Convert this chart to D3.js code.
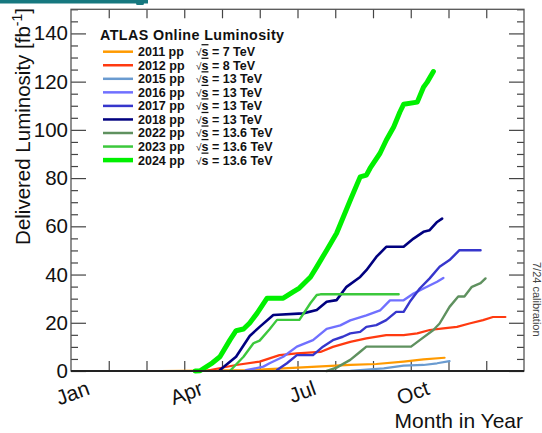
<!DOCTYPE html>
<html>
<head>
<meta charset="utf-8">
<script src="https://cdn.jsdelivr.net/npm/d3@7"></script>
<style>
  body { margin: 0; background: #fff; }
  svg { display: block; font-family: "Liberation Sans", Arial, sans-serif; }
</style>
</head>
<body>
<svg id="chart" width="542" height="433"></svg>
<script>
// x = day of year, y = delivered luminosity in fb^-1
const years = ["2011", "2012", "2015", "2016", "2017", "2018", "2022", "2023", "2024"];
const energies = ["7 TeV", "8 TeV", "13 TeV", "13 TeV", "13 TeV", "13 TeV", "13.6 TeV", "13.6 TeV", "13.6 TeV"];
const colors = ["#ff9a00", "#ff3a10", "#6a9bd0", "#7070ff", "#3636cc", "#00007f", "#5f915f", "#3cc83c", "#00f000"];
const widths = [2.2, 2.2, 2.2, 2.4, 2.4, 2.6, 2.4, 2.4, 5];

const lumi2011 = [[72,0],[144,0.4],[171,1.1],[198,1.8],[225,2.5],[246,2.9],[268,3.9],[284,4.8],[301,5.5]];
const lumi2012 = [[108,0],[133,2.5],[152,3.9],[168,6.6],[182,7.3],[201,7.9],[211,10],[225,12.1],[238,13.5],[254,14.9],[268,14.9],[279,15.6],[289,17],[300,17.7],[311,18.3],[321,19.7],[332,21.1],[340,22.4],[350,22.4]];
const lumi2015 = [[184,0],[225,0.1],[252,1.1],[268,2.2],[284,2.5],[295,3.2],[305,4.1]];
const lumi2016 = [[141,0.3],[155,1.8],[160,3.2],[171,5.9],[182,10.1],[195,12.8],[206,17.5],[217,18.9],[225,21],[238,23.1],[249,25.1],[257,29.3],[268,29.3],[276,32.1],[284,34.2],[295,37],[300,38.6]];
const lumi2017 = [[166,0.4],[174,3.2],[182,6.6],[195,6.6],[203,10.1],[211,12.8],[219,14.2],[225,15.6],[233,16.2],[238,18.3],[246,19],[254,21.1],[262,24.5],[268,24.5],[273,28.7],[281,34.2],[289,38.4],[297,43.2],[305,46],[313,50.1],[330,50.1]];
const lumi2018 = [[120,0.4],[133,5.9],[144,14.5],[152,18.3],[163,23.2],[187,23.9],[198,25.3],[206,28.7],[214,29.4],[222,34.9],[233,39],[238,41.8],[246,47.3],[254,51.5],[268,51.5],[276,54.9],[284,57.7],[289,58.4],[295,61.8],[299,63.2]];
const lumi2022 = [[206,0],[214,1.4],[225,4.6],[233,8],[238,10.1],[274,10.1],[281,12.8],[292,17],[297,19.7],[305,26.6],[312,30.9],[317,30.9],[323,34.9],[330,36.4],[334,38.4]];
const lumi2023 = [[128,0],[139,5.9],[147,11.5],[152,12.6],[160,17.3],[166,21.2],[184,21.2],[193,28.2],[198,31.5],[201,31.8],[264,31.8]];
const lumi2024 = [[100,0],[104,0.1],[114,3.4],[120,5.9],[128,12.8],[133,16.7],[139,17.4],[144,19.9],[150,24],[158,30.2],[171,30.2],[179,32.8],[184,34.4],[193,39],[198,43.2],[206,50.1],[214,57.1],[225,70.8],[233,80.5],[238,81.2],[241,84.1],[249,90.3],[254,95.7],[260,101.2],[265,107.4],[268,110.6],[279,111.5],[284,117.7],[287,119.8],[292,124.2]];
const series = [lumi2011, lumi2012, lumi2015, lumi2016, lumi2017, lumi2018, lumi2022, lumi2023, lumi2024];

const monthLabels = ["Jan", "", "", "Apr", "", "", "Jul", "", "", "Oct", "", ""];

const svg = d3.select('#chart');
const padL = 71, padR = 524, padT = 9.3, padB = 371;

const x = d3.scaleLinear().domain([0, 365]).range([padL, padR]);
const y = d3.scaleLinear().domain([0, 150]).range([padB, padT]);

// cropped header strip
svg.append('rect').attr('x', 0).attr('y', 0).attr('width', 148).attr('height', 3.5).attr('fill', '#16787f');
svg.append('rect').attr('x', 136).attr('y', 2).attr('width', 8).attr('height', 3).attr('rx', 1.5).attr('fill', '#16787f');

const monthTicks = d3.range(0, 12).map(i => i * 365 / 12);
const majorY = d3.range(0, 141, 20);
const minorY = d3.range(0, 151, 5).filter(v => v % 20 !== 0);

const frame = svg.append('g').attr('class', 'frame');
const axStyle = (g) => {
	g.select('.domain').remove();
	g.selectAll('line').attr('stroke', '#444').attr('stroke-width', 1.2);
};

// left axis
frame.append('g').attr('transform', `translate(${padL},0)`)
	.call(d3.axisLeft(y).tickValues(majorY).tickSize(-15).tickPadding(3))
	.call(axStyle)
	.call(g => g.selectAll('text').attr('font-size', 20.5).attr('fill', '#111').attr('font-family', 'Liberation Sans, Arial'));
frame.append('g').attr('transform', `translate(${padL},0)`)
	.call(d3.axisLeft(y).tickValues(minorY).tickSize(-7).tickFormat(''))
	.call(axStyle);
// right axis
frame.append('g').attr('transform', `translate(${padR},0)`)
	.call(d3.axisRight(y).tickValues(majorY).tickSize(-15).tickFormat(''))
	.call(axStyle);
frame.append('g').attr('transform', `translate(${padR},0)`)
	.call(d3.axisRight(y).tickValues(minorY).tickSize(-7).tickFormat(''))
	.call(axStyle);
// bottom and top axes
frame.append('g').attr('transform', `translate(0,${padB})`)
	.call(d3.axisBottom(x).tickValues(monthTicks.slice(1)).tickSize(-10).tickFormat(''))
	.call(axStyle);
frame.append('g').attr('transform', `translate(0,${padT})`)
	.call(d3.axisTop(x).tickValues(monthTicks.slice(1)).tickSize(-9).tickFormat(''))
	.call(axStyle);

// month labels, rotated
svg.append('g').selectAll('text')
	.data(monthTicks.map((t, i) => ({ t, label: monthLabels[i] })).filter(d => d.label))
	.join('text')
	.attr('transform', d => `translate(${x(d.t) + 20},${padB + 23}) rotate(-20)`)
	.attr('text-anchor', 'end')
	.attr('font-size', 21)
	.attr('fill', '#111')
	.text(d => d.label);

const line = d3.line().x(d => x(d[0])).y(d => y(d[1]));

svg.append('g').selectAll('path')
	.data(series)
	.join('path')
	.attr('d', line)
	.attr('fill', 'none')
	.attr('stroke', (d, i) => colors[i])
	.attr('stroke-width', (d, i) => widths[i])
	.attr('stroke-linejoin', 'round')
	.attr('stroke-linecap', 'round');

// frame box on top
svg.append('rect')
	.attr('x', padL).attr('y', padT)
	.attr('width', padR - padL).attr('height', padB - padT)
	.attr('fill', 'none').attr('stroke', '#555').attr('stroke-width', 1.3);
svg.append('line')
	.attr('x1', padL).attr('x2', padR).attr('y1', padB).attr('y2', padB)
	.attr('stroke', '#222').attr('stroke-width', 2);

// legend
const legend = svg.append('g');
legend.append('text')
	.attr('x', 100).attr('y', 39.5)
	.attr('font-size', 14.3).attr('font-weight', 'bold').attr('fill', '#111')
	.attr('letter-spacing', 0.4)
	.text('ATLAS Online Luminosity');
const rows = legend.selectAll('g.row')
	.data(years)
	.join('g')
	.attr('class', 'row')
	.attr('transform', (d, i) => `translate(0,${51.7 + i * 13.55})`);
rows.append('line')
	.attr('x1', 103).attr('x2', 133)
	.attr('stroke', (d, i) => colors[i])
	.attr('stroke-width', (d, i) => i === 8 ? 4.5 : 2.5);
rows.append('text')
	.attr('x', 138).attr('y', 4.4)
	.attr('font-size', 12.5).attr('font-weight', 'bold').attr('fill', '#111')
	.text(d => d + ' pp');
const en = rows.append('text')
	.attr('x', 196).attr('y', 4.4)
	.attr('font-size', 12.5).attr('font-weight', 'bold').attr('fill', '#111');
en.append('tspan').attr('font-size', 10).attr('font-weight', 'normal').text('\u221A');
en.append('tspan').style('text-decoration', 'overline').text('s');
en.append('tspan').text((d, i) => ' = ' + energies[i]);

// axis titles
const yTitle = svg.append('text')
	.attr('transform', 'translate(30,8) rotate(-90)')
	.attr('text-anchor', 'end')
	.attr('font-size', 20.5).attr('fill', '#111');
yTitle.append('tspan').text('Delivered Luminosity [fb');
yTitle.append('tspan').attr('font-size', 14).attr('dy', -8).text('-1');
yTitle.append('tspan').attr('dy', 8).text(']');

svg.append('text')
	.attr('x', 523).attr('y', 428)
	.attr('text-anchor', 'end')
	.attr('font-size', 21).attr('fill', '#111')
	.text('Month in Year');

svg.append('text')
	.attr('transform', 'translate(533,262) rotate(90)')
	.attr('font-size', 11).attr('fill', '#444')
	.text('7/24 calibration');
</script>
</body>
</html>
